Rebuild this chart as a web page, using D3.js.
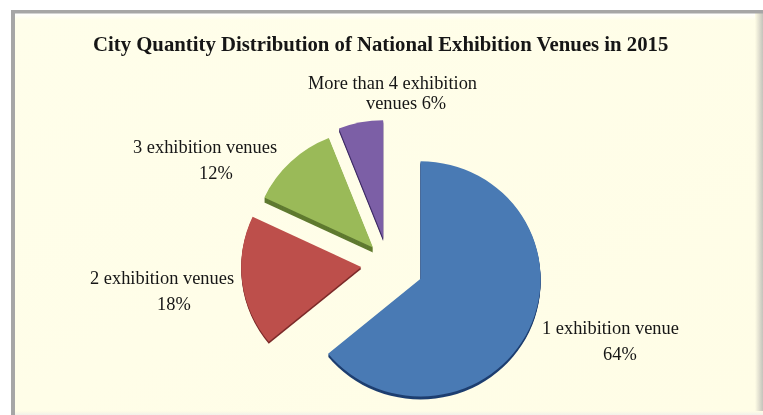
<!DOCTYPE html>
<html><head><meta charset="utf-8">
<script src="https://cdn.jsdelivr.net/npm/d3@7/dist/d3.min.js"></script>
<style>html,body{margin:0;padding:0;background:#fff}svg{display:block}text{font-family:"Liberation Serif",serif;fill:#151515}</style>
</head><body><svg id="c" width="763" height="415"></svg>
<script>
const categories = ["1 exhibition venue","2 exhibition venues","3 exhibition venues","More than 4 exhibition venues"];
const values = [64,18,12,6];
const titleText = "City Quantity Distribution of National Exhibition Venues in 2015";
const labelLines = [["1 exhibition venue","64%"],["2 exhibition venues","18%"],["3 exhibition venues","12%"],["More than 4 exhibition","venues 6%"]];

const topColors = ["#4a7ab4","#bd4f4b","#9aba59","#7c5ea6"];
const sideColors = ["#1f3f70","#7d2c2a","#5f7a30","#3f2c66"];
const explode = [36,27,22,26];
const depth = [3,2,5,3];
const labelPos = [[542,334,603,360],[90,284,157,310],[133,153,199,179],[308,89,366,109]];
const cx = 388, cy = 263.5, radius = 120, tilt = 0.98;

const svg = d3.select("#c");
const defs = svg.append("defs");
const g = defs.append("linearGradient").attr("id","bg").attr("x1",0).attr("y1",0).attr("x2",1).attr("y2",1);
g.append("stop").attr("offset",0).attr("stop-color","#fffeea");
g.append("stop").attr("offset",1).attr("stop-color","#fffde6");
const fr = defs.append("linearGradient").attr("id","fadeR");
fr.append("stop").attr("offset",0).attr("stop-color","#fffde6");
fr.append("stop").attr("offset",1).attr("stop-color","#c4c3bb");
const ft = defs.append("linearGradient").attr("id","fadeT").attr("x1",0).attr("y1",0).attr("x2",0).attr("y2",1);
ft.append("stop").attr("offset",0).attr("stop-color","#ffffff");
ft.append("stop").attr("offset",1).attr("stop-color","#fffeea");
const fb = defs.append("linearGradient").attr("id","fadeB").attr("x1",0).attr("y1",0).attr("x2",0).attr("y2",1);
fb.append("stop").attr("offset",0).attr("stop-color","#fffde6");
fb.append("stop").attr("offset",1).attr("stop-color","#f2f1ea");
defs.append("filter").attr("id","soft").attr("x",-0.02).attr("y",-0.02).attr("width",1.04).attr("height",1.04)
  .append("feGaussianBlur").attr("stdDeviation",0.45);

const root = svg.append("g").attr("filter","url(#soft)");
root.append("rect").attr("x",15).attr("y",13).attr("width",748).attr("height",402).attr("fill","url(#bg)");
root.append("rect").attr("x",15).attr("y",13).attr("width",748).attr("height",7).attr("fill","url(#fadeT)");
root.append("rect").attr("x",755).attr("y",13).attr("width",8).attr("height",402).attr("fill","url(#fadeR)");
root.append("rect").attr("x",15).attr("y",411).attr("width",748).attr("height",4).attr("fill","url(#fadeB)");
root.append("rect").attr("x",11).attr("y",10).attr("width",752).attr("height",3.5).attr("fill","#a6a6a6");
root.append("rect").attr("x",11).attr("y",10).attr("width",4).attr("height",405).attr("fill","#a6a6a6");

root.append("text").attr("x",93).attr("y",51)
  .style("font-size","20.75px").style("font-weight","bold").text(titleText);

const pie = d3.pie().sort(null).value(d=>d);
const arc = d3.arc().innerRadius(0).outerRadius(radius);
const arcs = pie(values);
const place = (d,i,dy)=>{
  const mid=(d.startAngle+d.endAngle)/2;
  return `translate(${cx+explode[i]*Math.sin(mid)},${cy-explode[i]*Math.cos(mid)+dy}) scale(1,${tilt})`;
};
arcs.forEach((d,i)=>{
  const s=root.append("g");
  for(let k=depth[i];k>0;k--){
    s.append("path").attr("d",arc(d)).attr("fill",sideColors[i]).attr("transform",place(d,i,k));
  }
  s.append("path").attr("d",arc(d)).attr("fill",topColors[i]).attr("transform",place(d,i,0));
});

labelLines.forEach((lines,i)=>{
  const p=labelPos[i];
  root.append("text").attr("x",p[0]).attr("y",p[1]).style("font-size","18.4px").text(lines[0]);
  root.append("text").attr("x",p[2]).attr("y",p[3]).style("font-size","18.4px").text(lines[1]);
});
</script></body></html>
